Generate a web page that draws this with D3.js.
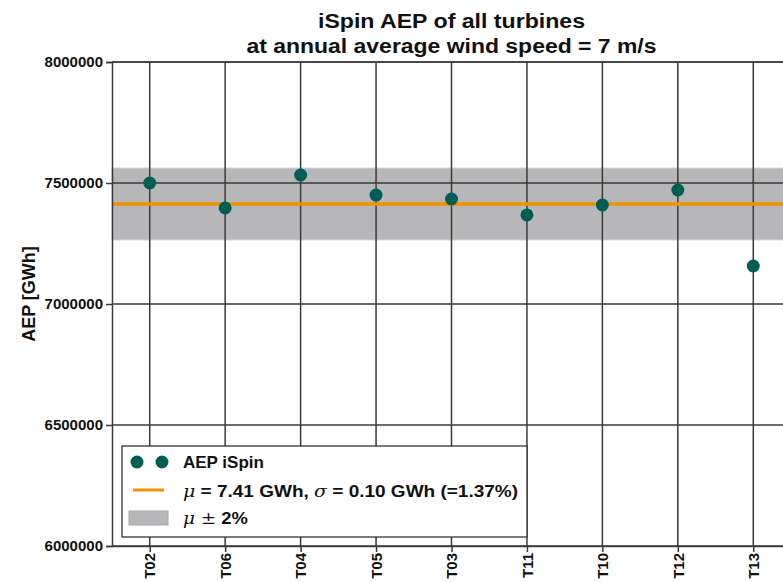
<!DOCTYPE html>
<html lang="en">
<head>
    <meta charset="UTF-8">
    <title>iSpin AEP of all turbines</title>
    <script src="https://d3js.org/d3.v7.min.js"></script>
    <style>
        body {
            margin: 0;
            background: white;
            font-family: "Liberation Sans", Arial, sans-serif;
        }
        svg text {
            font-weight: bold;
            fill: #111;
        }
        .math {
            font-family: "DejaVu Serif", serif;
            font-style: italic;
            font-weight: normal;
        }
    </style>
</head>
<body>
    <div id="chart"></div>

    <script>
        // Daten
        const turbines = ["T02", "T06", "T04", "T05", "T03", "T11", "T10", "T12", "T13"];
        const aep = [7500000, 7397000, 7533000, 7450000, 7434000, 7368000, 7409000, 7471000, 7157000];
        const yTicks = [6000000, 6500000, 7000000, 7500000, 8000000];
        const titleLines = ["iSpin AEP of all turbines", "at annual average wind speed = 7 m/s"];
        const bandPercent = 2;

        const width = 783;
        const height = 582;
        const margin = { top: 62, left: 112, bottom: 36 };
        const plotRight = 791; // Plotbereich reicht über den Rand hinaus

        const gridColor = "#3a3a3a";
        const pointColor = "#005f52";
        const meanColor = "#f39200";
        const bandColor = "#b7b7b9";

        const svg = d3.select("#chart")
            .append("svg")
            .attr("width", width)
            .attr("height", height);

        const x = d3.scalePoint()
            .domain(turbines)
            .range([margin.left, plotRight])
            .padding(0.5);

        const y = d3.scaleLinear()
            .domain([6000000, 8000000])
            .range([height - margin.bottom, margin.top]);

        const mu = d3.mean(aep);
        const bandLow = mu * (1 - bandPercent / 100);
        const bandHigh = mu * (1 + bandPercent / 100);

        // Band mu +/- 2%
        svg.append("rect")
            .attr("x", margin.left)
            .attr("y", y(bandHigh))
            .attr("width", plotRight - margin.left)
            .attr("height", y(bandLow) - y(bandHigh))
            .attr("fill", bandColor)
            .attr("stroke", "#c9c9cb")
            .attr("stroke-width", 1);

        // Gitterlinien
        svg.append("g")
            .selectAll("line")
            .data(yTicks)
            .join("line")
            .attr("x1", margin.left)
            .attr("x2", plotRight)
            .attr("y1", d => y(d))
            .attr("y2", d => y(d))
            .attr("stroke", gridColor)
            .attr("stroke-width", 1.5);

        svg.append("g")
            .selectAll("line")
            .data(turbines)
            .join("line")
            .attr("x1", d => x(d))
            .attr("x2", d => x(d))
            .attr("y1", margin.top)
            .attr("y2", height - margin.bottom)
            .attr("stroke", gridColor)
            .attr("stroke-width", 1.5);

        // Mittelwert
        svg.append("line")
            .attr("x1", margin.left)
            .attr("x2", plotRight)
            .attr("y1", y(mu))
            .attr("y2", y(mu))
            .attr("stroke", meanColor)
            .attr("stroke-width", 3.5);

        // Punkte
        svg.append("g")
            .selectAll("circle")
            .data(turbines)
            .join("circle")
            .attr("cx", d => x(d))
            .attr("cy", (d, i) => y(aep[i]))
            .attr("r", 6.5)
            .attr("fill", pointColor);

        // Achsen
        const yAxis = svg.append("g")
            .attr("transform", `translate(${margin.left},0)`)
            .call(d3.axisLeft(y).tickValues(yTicks).tickSize(6).tickPadding(3).tickFormat(d3.format("d")));
        yAxis.select(".domain").attr("stroke", gridColor).attr("stroke-width", 1.5);
        yAxis.selectAll(".tick line").attr("stroke", gridColor).attr("stroke-width", 1.5);
        yAxis.selectAll("text")
            .attr("font-size", 15)
            .attr("font-family", "Liberation Sans, Arial, sans-serif")
            .attr("font-weight", "bold");

        const xAxis = svg.append("g")
            .attr("transform", `translate(0,${height - margin.bottom})`)
            .call(d3.axisBottom(x).tickSize(6).tickSizeOuter(0));
        xAxis.select(".domain").attr("stroke", gridColor).attr("stroke-width", 1.5);
        xAxis.selectAll(".tick line").attr("stroke", gridColor).attr("stroke-width", 1.5);
        xAxis.selectAll("text")
            .attr("font-size", 15)
            .attr("font-family", "Liberation Sans, Arial, sans-serif")
            .attr("font-weight", "bold")
            .attr("transform", "rotate(-90)")
            .attr("text-anchor", "end")
            .attr("x", -7)
            .attr("y", 0)
            .attr("dy", "0.35em");

        // Rahmen oben
        svg.append("line")
            .attr("x1", margin.left)
            .attr("x2", plotRight)
            .attr("y1", margin.top)
            .attr("y2", margin.top)
            .attr("stroke", gridColor)
            .attr("stroke-width", 1.5);

        // Achsenbeschriftung
        svg.append("text")
            .attr("transform", `translate(35,294) rotate(-90)`)
            .attr("text-anchor", "middle")
            .attr("font-size", 18)
            .text("AEP [GWh]");

        // Titel
        const titleWidths = [267, 410];
        svg.append("g")
            .selectAll("text")
            .data(titleLines)
            .join("text")
            .attr("x", (d, i) => (margin.left + plotRight) / 2 - titleWidths[i] / 2)
            .attr("y", (d, i) => 28 + i * 25)
            .attr("font-size", 20)
            .attr("textLength", (d, i) => titleWidths[i])
            .attr("lengthAdjust", "spacingAndGlyphs")
            .text(d => d);

        // Legende
        const legend = svg.append("g");
        legend.append("rect")
            .attr("x", 122)
            .attr("y", 446)
            .attr("width", 405)
            .attr("height", 91)
            .attr("fill", "white")
            .attr("stroke", "#222")
            .attr("stroke-width", 1.2);

        legend.selectAll("circle")
            .data([137, 162])
            .join("circle")
            .attr("cx", d => d)
            .attr("cy", 462)
            .attr("r", 6.5)
            .attr("fill", pointColor);

        legend.append("line")
            .attr("x1", 133).attr("x2", 164)
            .attr("y1", 490).attr("y2", 490)
            .attr("stroke", meanColor)
            .attr("stroke-width", 3);

        legend.append("rect")
            .attr("x", 129).attr("y", 511)
            .attr("width", 39).attr("height", 14)
            .attr("fill", bandColor)
            .attr("stroke", "#a9a9ab");

        legend.append("text")
            .attr("x", 183).attr("y", 468)
            .attr("font-size", 17)
            .text("AEP iSpin");

        const t2 = legend.append("text")
            .attr("x", 183).attr("y", 497)
            .attr("font-size", 17)
            .attr("textLength", 335)
            .attr("lengthAdjust", "spacingAndGlyphs");
        t2.append("tspan").attr("class", "math").text("μ");
        t2.append("tspan").text(" = 7.41 GWh, ");
        t2.append("tspan").attr("class", "math").text("σ");
        t2.append("tspan").text(" = 0.10 GWh (=1.37%)");

        const t3 = legend.append("text")
            .attr("x", 183).attr("y", 524)
            .attr("font-size", 17)
            .attr("textLength", 65)
            .attr("lengthAdjust", "spacingAndGlyphs");
        t3.append("tspan").attr("class", "math").text("μ ±");
        t3.append("tspan").text("  2%");
    </script>
</body>
</html>
